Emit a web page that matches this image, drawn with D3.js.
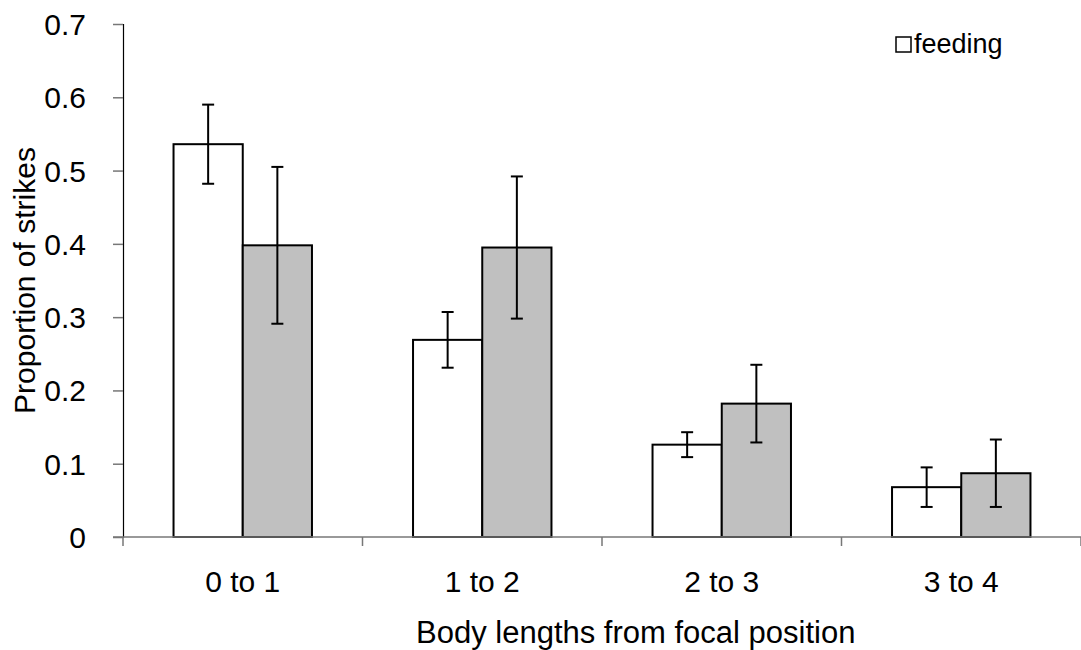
<!DOCTYPE html>
<html>
<head>
<meta charset="utf-8">
<script src="https://cdn.jsdelivr.net/npm/d3@7"></script>
<style>
  body { margin: 0; background: #fff; }
  svg text { font-family: "Liberation Sans", Arial, sans-serif; fill: #000; }
</style>
</head>
<body>
<div id="chart"></div>
<script>
// data
const categories = ["0 to 1", "1 to 2", "2 to 3", "3 to 4"];
const seriesNames = ["feeding", "other"];
const feedingValues = [0.536, 0.269, 0.126, 0.068];
const feedingErrors = [0.054, 0.038, 0.017, 0.027];
const otherValues = [0.398, 0.395, 0.182, 0.087];
const otherErrors = [0.107, 0.097, 0.053, 0.046];
const yTicks = [0, 0.1, 0.2, 0.3, 0.4, 0.5, 0.6, 0.7];

const width = 1081, height = 650;
const margin = { top: 24, right: 0, bottom: 113, left: 123 };

const svg = d3.select("#chart").append("svg")
    .attr("width", width)
    .attr("height", height);

const x0 = d3.scaleBand()
    .domain(categories)
    .range([margin.left, width - margin.right])
    .padding(0);

const x1 = d3.scaleBand()
    .domain(seriesNames)
    .range([x0.bandwidth() * 0.211, x0.bandwidth() * 0.789])
    .padding(0);

const y = d3.scaleLinear()
    .domain([0, 0.7])
    .range([height - margin.bottom, margin.top]);

const colors = { feeding: "#ffffff", other: "#c0c0c0" };

const rows = categories.map((c, i) => ({
    cat: c,
    bars: [
        { s: "feeding", v: feedingValues[i], e: feedingErrors[i] },
        { s: "other", v: otherValues[i], e: otherErrors[i] }
    ]
}));

// y axis
const yAxis = svg.append("g")
    .attr("transform", `translate(${margin.left},0)`)
    .call(d3.axisLeft(y).tickValues(yTicks).tickFormat(d => d === 0 ? "0" : d3.format(".1f")(d)).tickSize(10).tickPadding(27));
yAxis.select(".domain").attr("stroke", "#000").attr("stroke-width", 1.2);
yAxis.selectAll(".tick line").attr("stroke", "#777").attr("stroke-width", 1.5);
yAxis.selectAll("text").style("font-size", "30px").attr("dy", "0.35em");

// bars
const groups = svg.selectAll(".grp")
    .data(rows)
    .enter().append("g")
    .attr("class", "grp")
    .attr("transform", d => `translate(${x0(d.cat)},0)`);

groups.selectAll("rect")
    .data(d => d.bars)
    .enter().append("rect")
    .attr("x", d => x1(d.s))
    .attr("y", d => y(d.v))
    .attr("width", x1.bandwidth())
    .attr("height", d => y(0) - y(d.v))
    .attr("fill", d => colors[d.s])
    .attr("stroke", "#000")
    .attr("stroke-width", 2);

// error bars
const err = groups.selectAll(".err")
    .data(d => d.bars)
    .enter().append("g")
    .attr("class", "err")
    .attr("transform", d => `translate(${x1(d.s) + x1.bandwidth() / 2},0)`);

err.append("line")
    .attr("y1", d => y(d.v - d.e))
    .attr("y2", d => y(d.v + d.e))
    .attr("stroke", "#000").attr("stroke-width", 2);
err.append("line")
    .attr("x1", -6).attr("x2", 6)
    .attr("y1", d => y(d.v + d.e)).attr("y2", d => y(d.v + d.e))
    .attr("stroke", "#000").attr("stroke-width", 2);
err.append("line")
    .attr("x1", -6).attr("x2", 6)
    .attr("y1", d => y(d.v - d.e)).attr("y2", d => y(d.v - d.e))
    .attr("stroke", "#000").attr("stroke-width", 2);

// x axis: line, tick marks between categories
const xAxisY = y(0);
svg.append("line")
    .attr("x1", margin.left - 10).attr("x2", width - margin.right)
    .attr("y1", xAxisY).attr("y2", xAxisY)
    .attr("stroke", "#777").attr("stroke-width", 1.5);

const bounds = categories.map(c => x0(c)).concat([x0(categories[categories.length - 1]) + x0.bandwidth()]);
svg.selectAll(".xtick")
    .data(bounds)
    .enter().append("line")
    .attr("x1", d => d).attr("x2", d => d)
    .attr("y1", xAxisY).attr("y2", xAxisY + 9)
    .attr("stroke", "#777").attr("stroke-width", 1.5);

svg.selectAll(".xlab")
    .data(categories)
    .enter().append("text")
    .attr("x", d => x0(d) + x0.bandwidth() / 2)
    .attr("y", 592)
    .attr("text-anchor", "middle")
    .style("font-size", "30px")
    .text(d => d);

// axis titles
svg.append("text")
    .attr("x", 416)
    .attr("y", 643)
    .attr("text-anchor", "start")
    .style("font-size", "31px")
    .text("Body lengths from focal position");

svg.append("text")
    .attr("transform", `translate(35,${(y(0) + y(0.7)) / 2}) rotate(-90)`)
    .attr("text-anchor", "middle")
    .style("font-size", "30px")
    .text("Proportion of strikes");

// legend (only the first series is shown in the figure)
const legend = svg.append("g").attr("transform", "translate(896,37)");
legend.append("rect")
    .attr("width", 15).attr("height", 15)
    .attr("fill", "#fff").attr("stroke", "#000").attr("stroke-width", 1.5);
legend.append("text")
    .attr("x", 18).attr("y", 16)
    .style("font-size", "27px")
    .text(seriesNames[0]);
</script>
</body>
</html>
